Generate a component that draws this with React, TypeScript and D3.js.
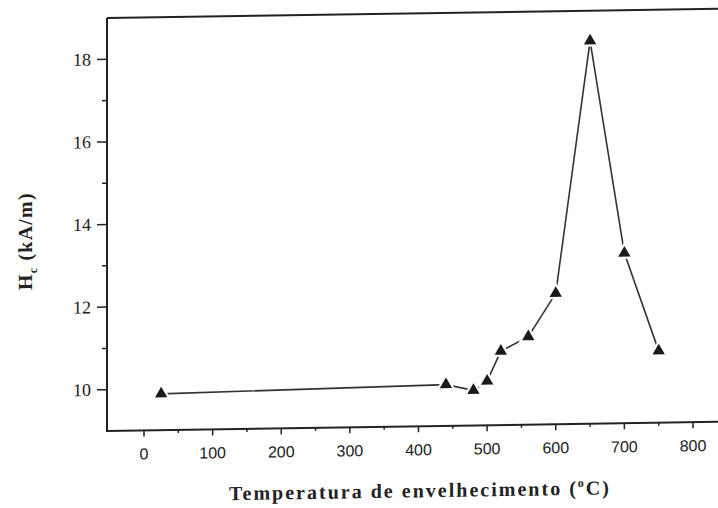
import React from "react";
import * as d3 from "d3";

const temps = [25, 440, 480, 500, 520, 560, 600, 650, 700, 750];
const hc = [9.88, 10.0, 9.85, 10.07, 10.79, 11.13, 12.17, 18.27, 13.12, 10.74];
const xTicks = [0, 100, 200, 300, 400, 500, 600, 700, 800];
const xMinor = [50, 150, 250, 350, 450, 550, 650, 750];
const yTicks = [10, 12, 14, 16, 18];
const yMinor = [11, 13, 15, 17];

export default function App() {
  const W = 718, H = 508;
  const left = 107, right = 740, top = 18, bottom = 431;
  const x = d3.scaleLinear().domain([0, 800]).range([144, 693]);
  const y = d3.scaleLinear().domain([9, 19]).range([bottom, top]);
  const pts = temps.map((t, i) => [x(t), y(hc[i])] as [number, number]);
  const line = d3.line()(pts) || "";
  const tri = d3.symbol().type(d3.symbolTriangle).size(66)() || "";
  const triBg = d3.symbol().type(d3.symbolTriangle).size(170)() || "";
  const sk = -0.86;
  return (
    <svg width={W} height={H} viewBox={`0 0 ${W} ${H}`}
      style={{ position: "absolute", left: 0, top: 0, background: "#fff" }}>
      <rect x={0} y={0} width={W} height={H} fill="#fff" />
      <g transform={`translate(0,${0.015 * left}) skewY(${sk})`}>
        {/* frame */}
        <line x1={left} x2={right} y1={top} y2={top} stroke="#222" strokeWidth={2} />
        <line x1={left} x2={left} y1={top} y2={bottom} stroke="#222" strokeWidth={2} />
        <line x1={left - 1} x2={right} y1={bottom} y2={bottom} stroke="#222" strokeWidth={2} />
        {/* x ticks */}
        {xTicks.map(t => (
          <g key={"xt" + t}>
            <line x1={x(t)} x2={x(t)} y1={bottom} y2={bottom + 6} stroke="#222" strokeWidth={1.5} />
            <text x={x(t)} y={460} textAnchor="middle" fontFamily="Liberation Sans, Arial, sans-serif"
              fontSize={16} fill="#222">{t}</text>
          </g>
        ))}
        {xMinor.map(t => (
          <line key={"xm" + t} x1={x(t)} x2={x(t)} y1={bottom} y2={bottom + 3} stroke="#222" strokeWidth={1.5} />
        ))}
        {/* y ticks */}
        {yTicks.map(t => (
          <g key={"yt" + t}>
            <line x1={left - 10} x2={left} y1={y(t)} y2={y(t)} stroke="#222" strokeWidth={1.5} />
            <text x={91} y={y(t) + 6} textAnchor="end" fontFamily="Liberation Serif, Times New Roman, serif"
              fontSize={18} fill="#222">{t}</text>
          </g>
        ))}
        {yMinor.map(t => (
          <line key={"ym" + t} x1={left - 5} x2={left} y1={y(t)} y2={y(t)} stroke="#222" strokeWidth={1.5} />
        ))}
        {/* data line */}
        <path d={line} fill="none" stroke="#333" strokeWidth={1.6} />
        {pts.map((p, i) => (
          <path key={"bg" + i} d={triBg} transform={`translate(${p[0]},${p[1]})`} fill="#fff" />
        ))}
        {pts.map((p, i) => (
          <path key={"m" + i} d={tri} transform={`translate(${p[0]},${p[1]})`} fill="#1a1a1a" />
        ))}
        {/* axis labels */}
        <text transform="translate(32,240) rotate(-90)" textAnchor="middle"
          fontFamily="Liberation Serif, Times New Roman, serif" fontWeight="bold" fontSize={20} fill="#222"
          letterSpacing={1.2}>
          H<tspan fontSize={12} dy={5}>c</tspan><tspan dy={-5}> (kA/m)</tspan>
        </text>
        <text x={419} y={502} textAnchor="middle" fontFamily="Liberation Serif, Times New Roman, serif"
          fontWeight="bold" fontSize={20} fill="#222" textLength={380} lengthAdjust="spacing">
          Temperatura de envelhecimento (<tspan fontSize={12} dy={-8}>o</tspan><tspan dy={8}>C)</tspan>
        </text>
      </g>
    </svg>
  );
}
